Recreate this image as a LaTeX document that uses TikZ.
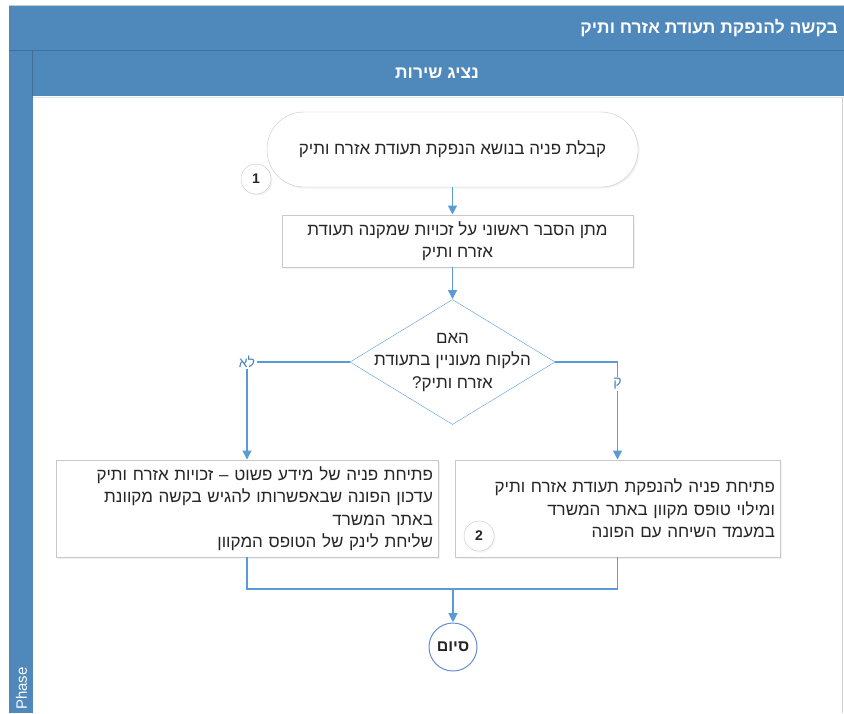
\documentclass[tikz,border=0pt]{standalone}
\usepackage{fontspec}
\setmainfont{Liberation Sans}
\newfontfamily\hebfont[Script=Hebrew]{Liberation Sans}
\newfontfamily\hebslant[Script=Hebrew,FakeSlant=0.2]{Liberation Sans}
\TeXXeTstate=1
\usetikzlibrary{shapes.geometric,arrows.meta,shadows}
% one right-to-left line of Hebrew
\newcommand\heb[1]{{\hebfont\beginR #1\endR}}
\definecolor{hdrblue}{RGB}{79,136,187}
\definecolor{hdrline}{RGB}{64,112,156}
\definecolor{flowblue}{RGB}{91,155,213}
\definecolor{labblue}{RGB}{79,129,189}
\definecolor{endblue}{RGB}{102,140,214}
\definecolor{boxgray}{RGB}{200,200,200}
\definecolor{txt}{RGB}{38,38,38}
\tikzset{
  softshadow/.style={drop shadow={opacity=0.10,shadow xshift=1.5pt,shadow yshift=-1.5pt}},
  hdrtext/.style={text=white,font=\bfseries\fontsize{17.5}{20}\selectfont,inner sep=0pt},
  phasetext/.style={text=white,font=\fontsize{15}{17}\selectfont,inner sep=0pt},
  body/.style={text=txt,font=\fontsize{17}{22.5}\selectfont},
  startbox/.style={body,draw=boxgray,fill=white,softshadow,minimum width=371pt,
      minimum height=75pt,rounded corners=37pt},
  procbox/.style={body,draw=boxgray,fill=white,softshadow,inner xsep=5pt,inner ysep=2pt},
  decision/.style={diamond,draw=flowblue,fill=white,inner sep=0pt,
      minimum width=205pt,minimum height=125pt},
  badge/.style={circle,draw=boxgray,fill=white,softshadow,minimum size=30pt,inner sep=0pt,
      text=txt,font=\bfseries\fontsize{14}{14}\selectfont},
  endnode/.style={circle,draw=endblue,line width=1pt,fill=white,minimum size=48pt,
      inner sep=0pt,text=txt,font=\bfseries\fontsize{16}{16}\selectfont},
  flowline/.style={draw=flowblue,line width=1.2pt},
  flow/.style={flowline,-{Triangle[length=9pt,width=9pt]},shorten >=0.3pt},
  branchlabel/.style={fill=white,inner sep=1.5pt,text=labblue,
      font=\hebslant\fontsize{14}{14}\selectfont},
}
\begin{document}
\begin{tikzpicture}[x=1pt,y=-1pt]
\useasboundingbox (0,0) rectangle (844,713);
\fill[white] (0,0) rectangle (844,713);

% pool header, lane header and phase strip
\fill[hdrblue] (9,5) rectangle (844,96);
\fill[hdrblue] (9,96) rectangle (32.5,713);
\draw[black!20] (9,5) -- (844,5);
\draw[hdrline,line width=1.2pt] (9,50.5) -- (844,50.5);
\draw[hdrline,line width=1pt] (32.5,51) -- (32.5,96);
\fill[white] (33,97) rectangle (842,713);
\draw[flowblue!25,line width=1.5pt] (33,97.5) -- (842,97.5);
\draw[black!18] (842,97) -- (842,713);

\node[hdrtext,anchor=east] (pooltitle) at (838,28) {\heb{בקשה להנפקת תעודת אזרח ותיק}};
\node[hdrtext] (lanetitle) at (437,73) {\heb{נציג שירות}};
\node[phasetext,rotate=90,anchor=west] (phase) at (21.5,710) {Phase};

% flow nodes
\node[startbox] (start) at (452.5,149.5) {\heb{קבלת פניה בנושא הנפקת תעודת אזרח ותיק}};
\node[procbox,minimum width=351pt,minimum height=52pt,align=center] (explain) at (457.5,241)
  {\heb{מתן הסבר ראשוני על זכויות שמקנה תעודת}\\\heb{אזרח ותיק}};
\node[decision] (dec) at (452.5,362) {};
\node[body,align=center,inner sep=0pt] (dectext) at (dec.center)
  {\heb{האם}\\\heb{הלקוח מעוניין בתעודת}\\\heb{אזרח ותיק\hbox{?}}};
\node[procbox,minimum width=382pt,minimum height=97pt,text width=372pt,align=right] (info) at (247,508.5)
  {\heb{פתיחת פניה של מידע פשוט – זכויות אזרח ותיק}\\
   \heb{עדכון הפונה שבאפשרותו להגיש בקשה מקוונת}\\
   \heb{באתר המשרד}\\
   \heb{שליחת לינק של הטופס המקוון}};
\node[procbox,minimum width=325pt,minimum height=97pt,text width=315pt,align=right] (appl) at (617.5,508.5)
  {\heb{פתיחת פניה להנפקת תעודת אזרח ותיק}\\
   \heb{ומילוי טופס מקוון באתר המשרד}\\
   \heb{במעמד השיחה עם הפונה}};
\node[endnode] (end) at (453,647) {\heb{סיום}};
\coordinate (merge) at (453,589);

% connectors
\draw[flow] (start) -- (start |- explain.north);
\draw[flow] (explain.south -| dec.north) -- (dec.north);
\draw[flow] (dec.west) -| node[branchlabel] (no) {\hebfont\beginR לא\endR} (info.north);
\draw[flow] (dec.east) -| node[branchlabel,pos=0.61] (yes) {\hebfont\beginR ק\endR} (appl.north);
\draw[flowline] (info.south) |- (merge);
\draw[flowline] (appl.south) |- (merge);
\draw[flow] (merge) -- (end);

% step badges
\node[badge] (b1) at (256,179) {1};
\node[badge] (b2) at (479,536) {2};
\end{tikzpicture}
\end{document}
